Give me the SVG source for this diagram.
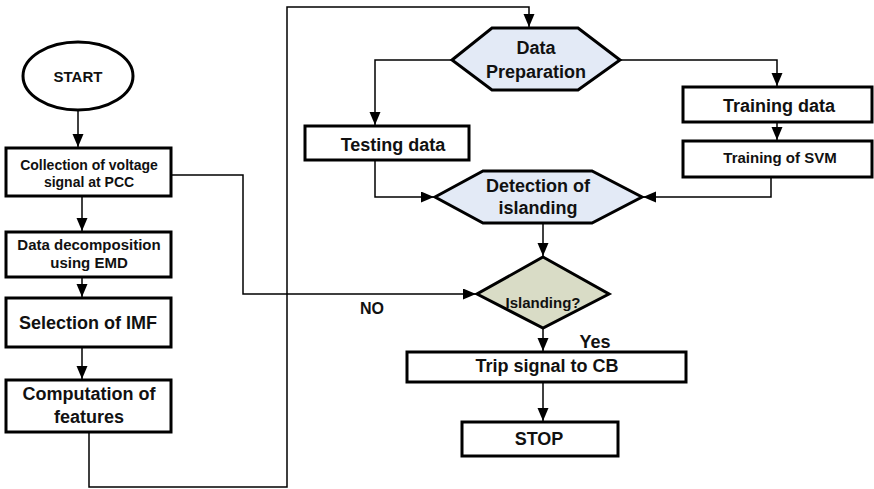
<svg xmlns="http://www.w3.org/2000/svg" width="874" height="489" viewBox="0 0 874 489">
<style>
text{font-family:"Liberation Sans",Arial,sans-serif;font-weight:bold;fill:#111;text-anchor:middle}
.box{fill:#fff;stroke:#000;stroke-width:3}
.hex{fill:#e3eaf6;stroke:#000;stroke-width:3;stroke-linejoin:miter}
.dia{fill:#d9dcc6;stroke:#000;stroke-width:3}
.c{fill:none;stroke:#000;stroke-width:1.5}
.a{marker-end:url(#ah)}
</style>
<defs>
<marker id="ah" markerUnits="userSpaceOnUse" markerWidth="14" markerHeight="12" refX="13" refY="5.5" orient="auto">
<path d="M0,0 L13,5.5 L0,11 z" fill="#000"/>
</marker>
</defs>
<g id="connectors">
<path class="c a" d="M78,110 V147"/>
<path class="c a" d="M82,196 V231"/>
<path class="c a" d="M82,277 V297"/>
<path class="c a" d="M82,347 V379"/>
<path class="c a" d="M89,432 V487 H287 V7 H529 V27"/>
<path class="c a" d="M171,175 H243 V294 H476"/>
<path class="c a" d="M452,60 H375 V125"/>
<path class="c a" d="M620,60 H777 V86"/>
<path class="c a" d="M777,122 V140"/>
<path class="c a" d="M375,160 V197 H434"/>
<path class="c a" d="M771,177 V197 H643"/>
<path class="c a" d="M543,223 V256"/>
<path class="c a" d="M543,328 V351"/>
<path class="c a" d="M543,382 V421"/>
</g>
<g id="start">
<ellipse cx="78" cy="76" rx="55" ry="34" fill="#fff" stroke="#000" stroke-width="3"/>
<text x="78" y="82" font-size="15">START</text>
</g>
<g id="collection">
<rect class="box" x="6" y="148" width="165" height="48"/>
<text x="89" y="170" font-size="14">Collection of voltage</text>
<text x="89" y="187" font-size="14">signal at PCC</text>
</g>
<g id="decomposition">
<rect class="box" x="6" y="232" width="165" height="45"/>
<text x="89" y="250" font-size="15">Data decomposition</text>
<text x="89" y="268" font-size="15">using EMD</text>
</g>
<g id="selection">
<rect class="box" x="6" y="298" width="165" height="49"/>
<text x="88" y="329" font-size="18">Selection of IMF</text>
</g>
<g id="computation">
<rect class="box" x="6" y="380" width="165" height="52"/>
<text x="89" y="400" font-size="18">Computation of</text>
<text x="89" y="423" font-size="18">features</text>
</g>
<g id="preparation">
<polygon class="hex" points="452,60 492,28 578,28 620,60 578,90 492,90"/>
<text x="536" y="54" font-size="18">Data</text>
<text x="536" y="78" font-size="18">Preparation</text>
</g>
<g id="testing">
<rect class="box" x="305" y="126" width="164" height="34"/>
<text x="393" y="151" font-size="18">Testing data</text>
</g>
<g id="training">
<rect class="box" x="683" y="87" width="189" height="35"/>
<text x="779" y="112" font-size="18">Training data</text>
</g>
<g id="svm">
<rect class="box" x="683" y="141" width="189" height="36"/>
<text x="780" y="163" font-size="15">Training of SVM</text>
</g>
<g id="detection">
<polygon class="hex" points="435,197 483,171 592,171 642,197 592,223 483,223"/>
<text x="538" y="192" font-size="18">Detection of</text>
<text x="538" y="214" font-size="18">islanding</text>
</g>
<g id="islanding">
<polygon class="dia" points="543,257 609,294 543,328 477,294"/>
<text x="543" y="308" font-size="15">Islanding?</text>
</g>
<g id="trip">
<rect class="box" x="407" y="352" width="279" height="30"/>
<text x="547" y="372" font-size="18">Trip signal to CB</text>
</g>
<g id="stop">
<rect class="box" x="462" y="422" width="156" height="34"/>
<text x="539" y="445" font-size="18">STOP</text>
</g>
<g id="labels">
<text x="372" y="314" font-size="16">NO</text>
<text x="595" y="348" font-size="18">Yes</text>
</g>
</svg>
